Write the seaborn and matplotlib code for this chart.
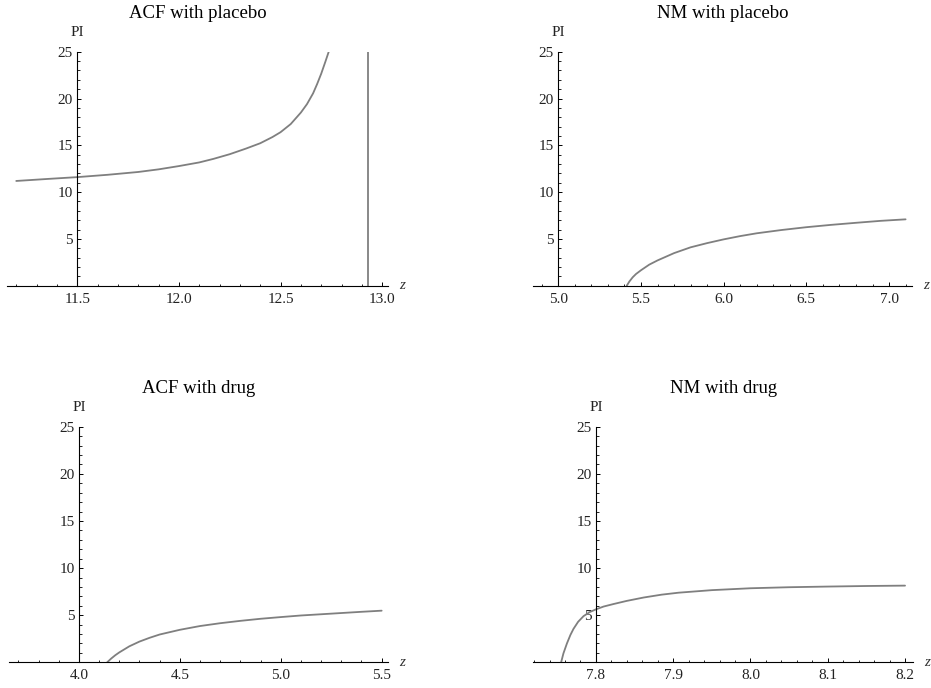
import numpy as np
import pandas as pd
import matplotlib
matplotlib.use("Agg")
import matplotlib.pyplot as plt
from matplotlib.ticker import MultipleLocator, FixedLocator, FormatStrFormatter
import seaborn as sns

# ---------------- data ----------------
titles = ["ACF with placebo", "NM with placebo", "ACF with drug", "NM with drug"]

acf_pl_z = [11.2, 11.35, 11.5, 11.65, 11.8, 11.9, 12.0, 12.1, 12.17, 12.25, 12.33, 12.4,
            12.46, 12.5, 12.55, 12.6, 12.63, 12.66, 12.68, 12.7, 12.72, 12.737]
acf_pl_pi = [11.19, 11.4, 11.6, 11.85, 12.15, 12.43, 12.78, 13.17, 13.55, 14.05, 14.65, 15.22,
             15.88, 16.4, 17.27, 18.5, 19.4, 20.55, 21.55, 22.65, 23.9, 25.0]
acf_pl_jump_z = [12.93, 12.93]
acf_pl_jump_pi = [0.0, 25.0]

nm_pl_z = [5.414, 5.43, 5.45, 5.47, 5.5, 5.55, 5.6, 5.7, 5.8, 5.9, 6.0, 6.1, 6.2,
           6.35, 6.5, 6.65, 6.8, 6.95, 7.1]
nm_pl_pi = [0.0, 0.45, 0.9, 1.25, 1.65, 2.25, 2.7, 3.48, 4.1, 4.55, 4.95, 5.3, 5.6,
            5.95, 6.25, 6.5, 6.72, 6.93, 7.09]

acf_dr_z = [4.14, 4.16, 4.18, 4.2, 4.25, 4.3, 4.35, 4.4, 4.5, 4.6, 4.7, 4.8, 4.9,
            5.0, 5.1, 5.2, 5.3, 5.4, 5.5]
acf_dr_pi = [0.0, 0.4, 0.75, 1.05, 1.7, 2.2, 2.6, 2.95, 3.45, 3.85, 4.15, 4.4, 4.62,
             4.8, 4.97, 5.1, 5.23, 5.36, 5.48]

nm_dr_z = [7.755, 7.758, 7.7625, 7.767, 7.771, 7.777, 7.784, 7.792, 7.8, 7.81, 7.823,
           7.84, 7.862, 7.885, 7.907, 7.95, 8.0, 8.05, 8.1, 8.15, 8.2]
nm_dr_pi = [0.0, 0.95, 2.0, 2.9, 3.55, 4.3, 4.9, 5.33, 5.62, 5.92, 6.19,
            6.52, 6.88, 7.18, 7.39, 7.66, 7.86, 7.97, 8.04, 8.1, 8.14]

x_majors = [[11.5, 12.0, 12.5, 13.0], [5.0, 5.5, 6.0, 6.5, 7.0],
            [4.0, 4.5, 5.0, 5.5], [7.8, 7.9, 8.0, 8.1, 8.2]]
y_majors = [5, 10, 15, 20, 25]
y_origin = [11.5, 5.0, 4.0, 7.8]
x_limits = [(11.153, 13.03), (4.849, 7.137), (3.655, 5.533), (7.719, 8.2107)]
x_minor_step = [0.1, 0.1, 0.1, 0.02]

# ---------------- style ----------------
sns.set_theme(style="white")
plt.rcParams["font.family"] = ["Liberation Serif", "DejaVu Serif"]
plt.rcParams["mathtext.fontset"] = "custom"
plt.rcParams["mathtext.it"] = "Liberation Serif:italic"

fig = plt.figure(figsize=(9.31, 6.88), dpi=100)
fig.patch.set_facecolor("white")

W, H = 931.0, 688.0
rects_px = [(6.7, 51.7, 388.3, 285.7), (533.3, 51.7, 911.7, 285.7),
            (9.3, 426.8, 388.3, 662.3), (533.3, 426.8, 913.3, 662.3)]

series = [
    [(acf_pl_z, acf_pl_pi), (acf_pl_jump_z, acf_pl_jump_pi)],
    [(nm_pl_z, nm_pl_pi)],
    [(acf_dr_z, acf_dr_pi)],
    [(nm_dr_z, nm_dr_pi)],
]

line_color = "#7f7f7f"

for i in range(4):
    l, t, r, b = rects_px[i]
    ax = fig.add_axes([l / W, (H - b) / H, (r - l) / W, (b - t) / H])
    ax.set_facecolor("white")
    for zs, ps in series[i]:
        df = pd.DataFrame({"z": zs, "PI": ps})
        sns.lineplot(data=df, x="z", y="PI", ax=ax, color=line_color, lw=1.3,
                     estimator=None, sort=False)
    ax.set_xlim(*x_limits[i])
    ax.set_ylim(0, 25)
    ax.set_xlabel("")
    ax.set_ylabel("")

    for s in ["top", "right"]:
        ax.spines[s].set_visible(False)
    ax.spines["left"].set_position(("data", y_origin[i]))
    ax.spines["bottom"].set_position(("data", 0))
    for s in ["left", "bottom"]:
        ax.spines[s].set_color("black")
        ax.spines[s].set_linewidth(0.8)

    ax.xaxis.set_major_locator(FixedLocator(x_majors[i]))
    ax.xaxis.set_minor_locator(MultipleLocator(x_minor_step[i]))
    ax.xaxis.set_major_formatter(FormatStrFormatter("%.1f"))
    ax.yaxis.set_major_locator(FixedLocator(y_majors))
    ax.yaxis.set_minor_locator(MultipleLocator(1))

    ax.tick_params(axis="both", which="major", direction="in", length=3.2, width=0.7,
                   color="black", labelsize=11, labelcolor="#222222")
    ax.tick_params(axis="both", which="minor", direction="in", length=1.8, width=0.6,
                   color="black")
    ax.tick_params(axis="x", which="major", pad=5)
    ax.tick_params(axis="y", which="major", pad=3)
    ax.tick_params(bottom=True, left=True, which="both")

    ax.set_title(titles[i], fontsize=13.5, pad=24, color="black")
    ax.annotate("PI", xy=(y_origin[i], 25), xycoords="data", xytext=(0, 9),
                textcoords="offset points", ha="center", va="bottom", fontsize=11,
                color="#222222", annotation_clip=False)
    ax.annotate("$z$", xy=(1.0, 0), xycoords=("axes fraction", "data"),
                xytext=(8, 0), textcoords="offset points", ha="left", va="center",
                fontsize=11, color="#333333", annotation_clip=False)

fig.savefig("out.png", dpi=100, facecolor="white")
